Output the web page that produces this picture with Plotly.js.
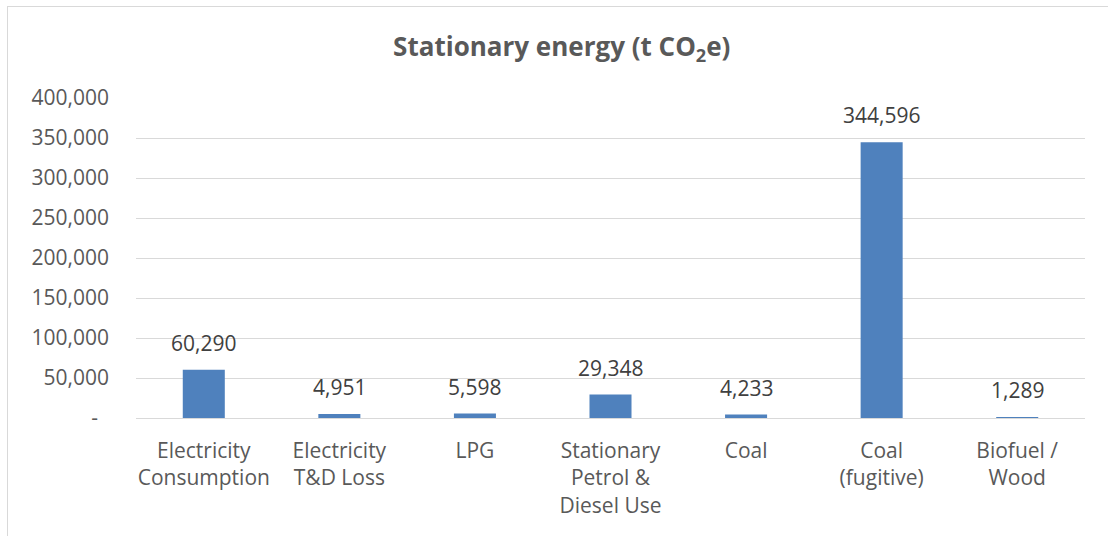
<!DOCTYPE html>
<html>
<head>
<meta charset="utf-8">
<script src="https://cdn.plot.ly/plotly-3.0.1.min.js"></script>
<style>
  html, body { margin: 0; padding: 0; background: #ffffff; }
  #wrap { position: relative; width: 1108px; height: 536px; overflow: hidden; }
  #chart { width: 1108px; height: 536px; }
  #frame { position: absolute; left: 7px; top: 6px; width: 1120px; height: 560px;
           border: 1px solid #d9d9d9; pointer-events: none; }
</style>
</head>
<body>
<div id="wrap">
  <div id="chart"></div>
  <div id="frame"></div>
</div>
<script>
const categories = [
  "Electricity<br>Consumption",
  "Electricity<br>T&D Loss",
  "LPG",
  "Stationary<br>Petrol &<br>Diesel Use",
  "Coal",
  "Coal<br>(fugitive)",
  "Biofuel /<br>Wood"
];
const emissions = [60290, 4951, 5598, 29348, 4233, 344596, 1289];
const yTickValues = [0, 50000, 100000, 150000, 200000, 250000, 300000, 350000, 400000];
const yTickLabels = ["-\u00a0\u00a0", "50,000", "100,000", "150,000", "200,000", "250,000", "300,000", "350,000", "400,000"];

const FONT = "Open Sans, Lato, sans-serif";
const FS = 21;

const trace = {
  type: "bar",
  x: categories,
  y: emissions,
  marker: { color: "#4F81BD" },
  width: 0.31,
  hoverinfo: "x+y"
};

const labels = categories.map((c, i) => ({
  x: c,
  y: emissions[i],
  xref: "x",
  yref: "y",
  text: emissions[i].toLocaleString("en-US"),
  showarrow: false,
  yanchor: "bottom",
  xanchor: "center",
  yshift: 11,
  font: { family: FONT, size: FS, color: "#404040" }
}));

const layout = {
  width: 1108,
  height: 536,
  margin: { l: 136, r: 23, t: 98, b: 118 },
  paper_bgcolor: "#ffffff",
  plot_bgcolor: "#ffffff",
  showlegend: false,
  title: {
    text: "<b>Stationary energy (t CO<sub>2</sub>e)</b>",
    font: { family: FONT, size: 26, color: "#595959" },
    x: 0.507, xanchor: "center",
    y: 0.912, yanchor: "middle", yref: "container"
  },
  annotations: labels,
  xaxis: {
    type: "category",
    showgrid: false,
    showline: false,
    zeroline: false,
    ticks: "",
    ticklabelstandoff: 18,
    tickfont: { family: FONT, size: FS, color: "#595959" },
    automargin: false
  },
  yaxis: {
    range: [0, 400000],
    tickmode: "array",
    tickvals: yTickValues,
    ticktext: yTickLabels,
    showgrid: true,
    gridcolor: "#d9d9d9",
    gridwidth: 1,
    zeroline: true,
    zerolinecolor: "#d9d9d9",
    zerolinewidth: 1,
    showline: false,
    ticks: "",
    ticklen: 0,
    ticklabelstandoff: 26,
    tickfont: { family: FONT, size: FS, color: "#595959" },
    automargin: false
  }
};

Plotly.newPlot("chart", [trace], layout, { staticPlot: true, displayModeBar: false });
</script>
</body>
</html>
